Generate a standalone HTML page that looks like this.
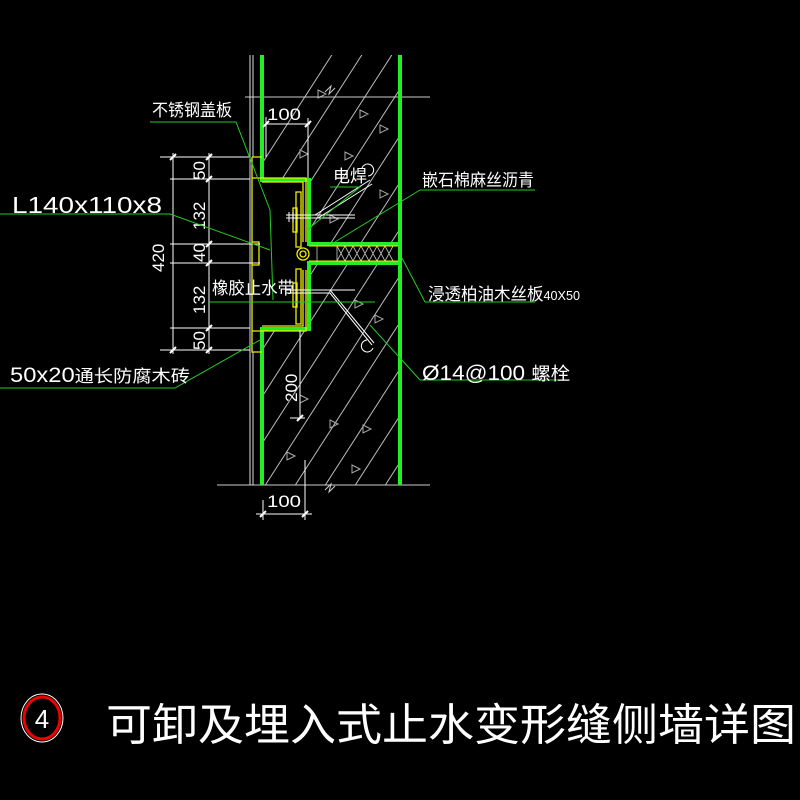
<!DOCTYPE html>
<html><head><meta charset="utf-8"><style>
html,body{margin:0;padding:0;background:#000;}
svg{display:block}
text{font-family:"Liberation Sans","Noto Sans CJK SC",sans-serif;fill:#fff}
</style></head><body>
<svg width="800" height="800" viewBox="0 0 800 800" xmlns="http://www.w3.org/2000/svg">
<defs>
<clipPath id="wall"><path d="M262 55 H400 V485 H262 V329 H309 V263 H400 V244 H309 V180 H262 Z"/></clipPath>
</defs>
<rect width="800" height="800" fill="#000"/>
<g clip-path="url(#wall)" stroke="#bbb" stroke-width="1">
<path d="M200 540 L560 -20 M230 540 L590 -20 M260 540 L620 -20 M290 540 L650 -20 M320 540 L680 -20 M350 540 L710 -20 M380 540 L740 -20 M410 540 L770 -20 M440 540 L800 -20 M470 540 L830 -20 M500 540 L860 -20 M530 540 L890 -20 M560 540 L920 -20 M590 540 L950 -20 M620 540 L980 -20 M170 540 L530 -20 M140 540 L500 -20 M110 540 L470 -20 M80 540 L440 -20 M50 540 L410 -20 M20 540 L380 -20"/>
<g fill="none" stroke="#aaa">
<path d="M318 90 l8 4 -8 4z M345 152 l8 4 -8 4z M300 150 l8 4 -8 4z M380 190 l8 4 -8 4z M330 215 l8 4 -8 4z M355 300 l8 4 -8 4z M375 315 l8 4 -8 4z M300 395 l8 4 -8 4z M330 420 l8 4 -8 4z M363 425 l8 4 -8 4z M287 452 l8 4 -8 4z M352 465 l8 4 -8 4z M380 125 l8 4 -8 4z M360 110 l8 4 -8 4z"/>
</g>
</g>
<line x1="245" y1="97" x2="430" y2="97" stroke="#ccc"/>
<line x1="217" y1="485" x2="430" y2="485" stroke="#ccc"/>
<path d="M325 92 l6 -6 -2 8 6 -6" stroke="#ccc" fill="none"/>
<path d="M325 490 l6 -6 -2 8 6 -6" stroke="#ccc" fill="none"/>
<line x1="250" y1="55" x2="250" y2="485" stroke="#ddd"/>
<line x1="253" y1="55" x2="253" y2="157" stroke="#ddd"/>
<line x1="253" y1="352" x2="253" y2="485" stroke="#ddd"/>
<g stroke="#22ee22" stroke-width="4" fill="none">
<path d="M262 55 V180 H309 V244 H400"/>
<path d="M400 263 H309 V329 H262 V485"/>
<line x1="400" y1="55" x2="400" y2="485"/>
</g>
<g stroke="#ccc" fill="none" stroke-width="0.8">
<path d="M337 246 l8 15 8 -15 8 15 8 -15 8 15 8 -15 8 15 M337 261 l8 -15 8 15 8 -15 8 15 8 -15 8 15 8 -15"/>
<line x1="317" y1="246" x2="317" y2="262"/>
<line x1="337" y1="246" x2="337" y2="262"/>
</g>
<line x1="309" y1="246" x2="398" y2="246" stroke="#ee0" stroke-width="1"/>
<line x1="309" y1="261" x2="398" y2="261" stroke="#ee0" stroke-width="1"/>
<g stroke="#ee0" fill="none" stroke-width="1.3">
<path d="M252 157 V352 H262 M252 157 H262"/>
<path d="M252 178 H306 V242 M252 331 H306 V270"/>
<path d="M262 182 H303 V242 M262 326 H303 V270"/>
<path d="M252 242 H259 V265 H252"/>
<rect x="296" y="192" width="5" height="55"/>
<rect x="293" y="208" width="4" height="24"/>
<rect x="296" y="269" width="5" height="55"/>
<rect x="293" y="283" width="4" height="24"/>
<circle cx="303" cy="254" r="6"/>
<circle cx="303" cy="254" r="3"/>
</g>
<g stroke="#fff" fill="none" stroke-width="1">
<path d="M286 215 H355 M286 218 H355 M289 212 V222 M293 212 V222"/>
<path d="M286 290 H355 M286 293 H330 L372 345 M330 290 L374 343"/>
<path d="M367 340 a6 6 0 1 0 6 8"/>
<path d="M315 215 L370 180 M318 218 L372 184"/>
<path d="M362 168 a6 6 0 1 1 6 8"/>
<line x1="300" y1="330" x2="300" y2="418"/>
<line x1="290" y1="418" x2="305" y2="418"/>
</g>
<g stroke="#fff" stroke-width="1" fill="none">
<line x1="173" y1="153" x2="173" y2="354"/>
<line x1="209" y1="153" x2="209" y2="354"/>
<path d="M160 157 H250 M170 179 H250 M170 244 H260 M170 263 H260 M170 328 H250 M160 350 H250"/>
<path d="M266 124 H310 M266 117 V157 M308 118 V178"/>
<path d="M263 500 V520 M305 460 V520 M256 514 H312"/>
</g>
<g stroke="#fff" stroke-width="2">
<path d="M170 160 l6 -6 M170 353 l6 -6 M206 160 l6 -6 M206 182 l6 -6 M206 247 l6 -6 M206 266 l6 -6 M206 331 l6 -6 M206 353 l6 -6 M263 127 l6 -6 M305 127 l6 -6 M260 517 l6 -6 M302 517 l6 -6 M297 421 l6 -6"/>
</g>
<g font-size="17">
<text x="267" y="120" textLength="34" lengthAdjust="spacingAndGlyphs">100</text>
<text x="267" y="507" textLength="34" lengthAdjust="spacingAndGlyphs">100</text>
<text transform="translate(164,272) rotate(-90)">420</text>
<text transform="translate(205,180) rotate(-90)">50</text>
<text transform="translate(205,230) rotate(-90)">132</text>
<text transform="translate(205,262) rotate(-90)">40</text>
<text transform="translate(205,314) rotate(-90)">132</text>
<text transform="translate(205,350) rotate(-90)">50</text>
<text transform="translate(297,402) rotate(-90)">200</text>
</g>
<g stroke="#22cc22" stroke-width="1" fill="none">
<path d="M150 122 H236 L270 210 L273 300"/>
<path d="M0 214 H170 L270 250"/>
<path d="M210 302 H375"/>
<path d="M0 388 H175 L260 340"/>
<path d="M420 190 L330 245 M420 190 H535"/>
<path d="M425 302 H535 M425 302 L402 258"/>
<path d="M420 380 H570 M420 380 L370 325"/>
<path d="M330 187 H360 L307 230"/>
</g>
<g font-size="17">
<text x="152" y="116" textLength="80" lengthAdjust="spacingAndGlyphs">不锈钢盖板</text>
<text x="212" y="294" textLength="82" lengthAdjust="spacingAndGlyphs">橡胶止水带</text>
<text x="333" y="182">电焊</text>
<text x="422" y="186" textLength="112" lengthAdjust="spacingAndGlyphs">嵌石棉麻丝沥青</text>
<text x="428" y="300" textLength="152" lengthAdjust="spacingAndGlyphs">浸透柏油木丝板<tspan font-size="13">40X50</tspan></text>
</g>
<text x="12" y="213" font-size="23" textLength="150" lengthAdjust="spacingAndGlyphs">L140x110x8</text>
<text x="10" y="382" font-size="21" textLength="180" lengthAdjust="spacingAndGlyphs">50x20<tspan font-size="17">通长防腐木砖</tspan></text>
<text x="422" y="380" font-size="21" textLength="148" lengthAdjust="spacingAndGlyphs">Ø14@100 <tspan font-size="18">螺栓</tspan></text>
<ellipse cx="42" cy="718" rx="21" ry="24" fill="none" stroke="#fff" stroke-width="1"/>
<ellipse cx="42" cy="718" rx="18" ry="21" fill="none" stroke="#e00" stroke-width="3"/>
<text x="42" y="728" font-size="26" text-anchor="middle">4</text>
<text x="106" y="740" font-size="44" textLength="690" lengthAdjust="spacingAndGlyphs">可卸及埋入式止水变形缝侧墙详图</text>
</svg>
</body></html>
